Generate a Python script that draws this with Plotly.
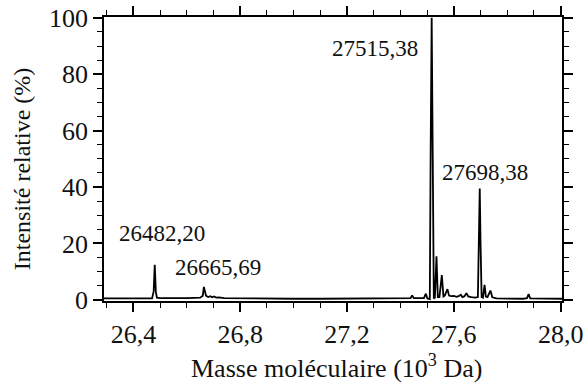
import plotly.graph_objects as go

# Spectrum (mass in 10^3 Da, relative intensity in %)
mass = [26.29, 26.35, 26.42, 26.470, 26.476, 26.480, 26.484, 26.488, 26.50, 26.55,
        26.60, 26.65, 26.660, 26.664, 26.668, 26.672, 26.680, 26.688, 26.695, 26.702,
        26.710, 26.72, 26.74, 26.80, 26.90, 27.00, 27.10, 27.20, 27.30, 27.40,
        27.438, 27.444, 27.450, 27.488, 27.495, 27.501, 27.510, 27.513, 27.517, 27.521,
        27.525, 27.529, 27.535, 27.540, 27.546, 27.555, 27.561, 27.566, 27.576, 27.582,
        27.590, 27.600, 27.610, 27.618, 27.626, 27.632, 27.640, 27.647, 27.654, 27.665,
        27.680, 27.690, 27.694, 27.697, 27.700, 27.704, 27.709, 27.715, 27.720, 27.726,
        27.737, 27.744, 27.76, 27.80, 27.86, 27.874, 27.880, 27.886, 27.92, 28.005]
intensity = [0.5, 0.5, 0.5, 0.5, 3.0, 12.4, 3.0, 0.8, 0.6, 0.5,
             0.6, 0.8, 1.5, 4.6, 3.0, 1.5, 1.0, 1.3, 0.9, 1.2,
             0.8, 0.9, 0.6, 0.5, 0.4, 0.4, 0.4, 0.4, 0.4, 0.4,
             0.6, 1.6, 0.6, 0.6, 2.2, 0.5, 0.3, 50.0, 100.0, 50.0,
             0.5, 0.8, 15.5, 1.0, 1.0, 8.8, 1.2, 1.5, 3.8, 1.5,
             1.3, 1.4, 1.1, 1.3, 1.8, 1.0, 1.3, 2.4, 1.2, 1.0,
             0.8, 1.0, 20.0, 39.5, 20.0, 1.0, 0.8, 5.3, 1.2, 1.0,
             3.3, 0.9, 0.5, 0.4, 0.4, 0.6, 2.1, 0.5, 0.4, 0.4]

peak_labels = ["27515,38", "27698,38", "26482,20", "26665,69"]
peak_label_x = [27.475, 27.716, 26.508, 26.718]
peak_label_y = [89.0, 45.2, 23.6, 11.6]
peak_label_anchor = ["right", "center", "center", "center"]

x_title = "Masse moléculaire (10<sup>3</sup> Da)"
y_title = "Intensité relative (%)"

FONT = "Liberation Serif"
FONT_Y = "Times New Roman, Liberation Serif, serif"
TXT = "#111"

fig = go.Figure()
fig.add_trace(go.Scatter(x=mass, y=intensity, mode="lines",
                         line=dict(color="black", width=1.8), showlegend=False,
                         hoverinfo="skip"))

for t, x, y, a in zip(peak_labels, peak_label_x, peak_label_y, peak_label_anchor):
    fig.add_annotation(x=x, y=y, text=t, showarrow=False, xanchor=a, yanchor="middle",
                       font=dict(family=FONT, size=23, color=TXT))

# axis titles
fig.add_annotation(xref="paper", yref="paper", x=0.507, y=-0.232, text=x_title,
                   showarrow=False, xanchor="center", yanchor="middle",
                   font=dict(family=FONT, size=26, color=TXT))
fig.add_annotation(xref="paper", yref="paper", x=-0.179, y=0.464, text=y_title,
                   showarrow=False, xanchor="center", yanchor="middle", textangle=-90,
                   font=dict(family=FONT_Y, size=24, color=TXT))

axis_common = dict(showgrid=False, zeroline=False, showline=True, linecolor="black",
                   linewidth=1.6, mirror="ticks", ticks="outside", ticklen=9,
                   tickwidth=1.6, tickcolor="black", automargin=False,
                   tickfont=dict(family=FONT, size=26, color=TXT))

fig.update_xaxes(range=[26.29, 28.005], tick0=26.4, dtick=0.4,
                 tickformat=".1f",
                 minor=dict(dtick=0.1, tick0=26.4, ticks="outside", ticklen=5,
                            tickwidth=1.4, tickcolor="black"),
                 **axis_common)
fig.update_yaxes(range=[-0.4, 100.3], tick0=0, dtick=20,
                 minor=dict(dtick=5, tick0=0, ticks="outside", ticklen=5,
                            tickwidth=1.4, tickcolor="black"),
                 **axis_common)

fig.update_layout(width=586, height=391, separators=", ",
                  margin=dict(l=104, r=24, t=17, b=90, autoexpand=False),
                  plot_bgcolor="white", paper_bgcolor="white",
                  font=dict(family=FONT, color=TXT))

fig.write_html("out.html", config={"displayModeBar": False},
               post_script="document.body.style.margin='0px';")
